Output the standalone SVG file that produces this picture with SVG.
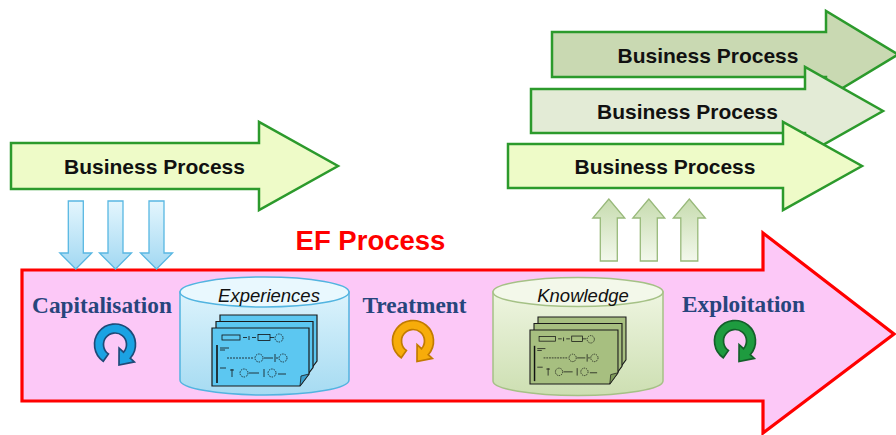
<svg xmlns="http://www.w3.org/2000/svg" xmlns:xlink="http://www.w3.org/1999/xlink" width="896" height="435" viewBox="0 0 896 435">
<style>
.bp{font-family:"Liberation Sans",Arial,sans-serif;font-weight:bold;font-size:21px;fill:#111;text-anchor:middle}
.stage{font-family:"Liberation Serif","Times New Roman",serif;font-weight:bold;font-size:23.3px;fill:#27457c;text-anchor:middle}
.db{font-family:"Liberation Sans",Arial,sans-serif;font-style:italic;font-size:18.5px;fill:#111;text-anchor:middle}
.garrow{stroke:#2c9a2c;stroke-width:2.5;stroke-linejoin:miter}
.sheet{stroke:#1a1a1a;stroke-width:1.2}
.sc{fill:none;stroke:#111;stroke-width:0.8}
</style>
<defs>
<linearGradient id="gBlue" x1="0" y1="0" x2="0" y2="1">
<stop offset="0" stop-color="#e4f6fd"/><stop offset="1" stop-color="#a2d8f2"/>
</linearGradient>
<linearGradient id="gGreenUp" x1="0" y1="0" x2="0" y2="1">
<stop offset="0" stop-color="#c6dbae"/><stop offset="1" stop-color="#f3f8ec"/>
</linearGradient>
<linearGradient id="cylB" x1="0" y1="0" x2="0" y2="1">
<stop offset="0" stop-color="#dcf3fc"/><stop offset="1" stop-color="#a6dbf2"/>
</linearGradient>
<linearGradient id="cylG" x1="0" y1="0" x2="0" y2="1">
<stop offset="0" stop-color="#eef5e0"/><stop offset="1" stop-color="#cddfb2"/>
</linearGradient>
<path id="down" d="M-7.5 0 H7.5 V52 H16 L0 68 L-16 52 H-7.5 Z"/>
<path id="up" d="M0 0 L16 19 H8.5 V62 H-8.5 V19 H-16 Z"/>
<path id="rot" d="M-11.76 16.79 A20.5 20.5 0 1 1 15.23 13.72 L19.32 17.4 L4 20.5 L4.09 3.68 L8.55 7.69 A11.5 11.5 0 1 0 -6.6 9.42 Z" stroke-width="1.7" stroke-linejoin="miter"/>
<path id="sheet" d="M0 0 H97 V46 L88 58 H0 Z"/>
<g id="scrib">
<rect class="sc" x="10" y="7" width="18" height="5"/>
<path class="sc" d="M31 9.5 h4 M37 8 v4 M40 9.5 h4"/>
<rect class="sc" x="46" y="6.5" width="12" height="6"/>
<path class="sc" d="M58 9.5 h4"/>
<circle class="sc" cx="67" cy="10" r="4" stroke-dasharray="1.5 1"/>
<path d="M5 17 V55" stroke="#111" stroke-width="1.6"/>
<path class="sc" d="M8 20 h9 M8 22 h5"/>
<path class="sc" d="M15 30 h26" stroke-dasharray="2 1"/>
<circle class="sc" cx="47" cy="30" r="4" stroke-dasharray="1.5 1"/>
<path class="sc" d="M52 30 h9 M63 26 v8 M64 30 h2"/>
<circle class="sc" cx="71" cy="30" r="4" stroke-dasharray="1.5 1"/>
<path class="sc" d="M8 40 h6 M20 41 v8 M18 42 h4"/>
<circle class="sc" cx="32" cy="45" r="4" stroke-dasharray="1.5 1"/>
<path class="sc" d="M37 45 h10 M52 41 v8"/>
<circle class="sc" cx="60" cy="45" r="4" stroke-dasharray="1.5 1"/>
<path class="sc" d="M66 46 h8"/>
</g>
</defs>

<rect width="896" height="435" fill="#ffffff"/>

<g id="ef-process">
<path d="M22 270 H763 V233 L894 334 L763 433 V401 H22 Z" fill="#fcc8f7" stroke="#ff0000" stroke-width="3.2" stroke-linejoin="miter"/>
<text x="370.5" y="250" font-family="'Liberation Sans',Arial,sans-serif" font-weight="bold" font-size="27.5" fill="#ff0000" text-anchor="middle">EF Process</text>
</g>

<g id="bp-left">
<path class="garrow" d="M11 143 H259 V122 L338 166 L259 210 V189 H11 Z" fill="#eefbc8"/>
<text class="bp" x="154.5" y="173.5">Business Process</text>
</g>

<g id="bp-top">
<path class="garrow" d="M552 32 H826 V11 L898 54.5 L826 98 V77 H552 Z" fill="#c9d9b2"/>
<text class="bp" x="708" y="62.5">Business Process</text>
</g>

<g id="bp-middle">
<path class="garrow" d="M531 89 H805 V67 L883 111 L805 155 V133 H531 Z" fill="#e3ebd6"/>
<text class="bp" x="687.5" y="118.5">Business Process</text>
</g>

<g id="bp-bottom">
<path class="garrow" d="M508 144 H783 V122 L862 166 L783 210 V188 H508 Z" fill="#eefbc8"/>
<text class="bp" x="665" y="173.5">Business Process</text>
</g>

<g id="connectors">
<use xlink:href="#down" href="#down" x="75.8" y="201" fill="url(#gBlue)" stroke="#58b7e2" stroke-width="1.3"/>
<use xlink:href="#down" href="#down" x="115.5" y="201" fill="url(#gBlue)" stroke="#58b7e2" stroke-width="1.3"/>
<use xlink:href="#down" href="#down" x="156.5" y="201" fill="url(#gBlue)" stroke="#58b7e2" stroke-width="1.3"/>
<use xlink:href="#up" href="#up" x="608.8" y="199" fill="url(#gGreenUp)" stroke="#98b97a" stroke-width="1.3"/>
<use xlink:href="#up" href="#up" x="648.8" y="199" fill="url(#gGreenUp)" stroke="#98b97a" stroke-width="1.3"/>
<use xlink:href="#up" href="#up" x="689.3" y="199" fill="url(#gGreenUp)" stroke="#98b97a" stroke-width="1.3"/>
</g>

<g id="capitalisation">
<text class="stage" x="102" y="312.5">Capitalisation</text>
<use xlink:href="#rot" href="#rot" x="115" y="344.5" fill="#1ba2e3" stroke="#1f4a78"/>
</g>

<g id="treatment">
<text class="stage" x="414.5" y="312.5">Treatment</text>
<use xlink:href="#rot" href="#rot" x="413" y="341" fill="#f7ac0a" stroke="#c27b00"/>
</g>

<g id="exploitation">
<text class="stage" x="743.5" y="312">Exploitation</text>
<use xlink:href="#rot" href="#rot" x="735" y="341" fill="#1e9b3f" stroke="#145f2a"/>
</g>

<g id="experiences">
<path d="M180 292 V380 A84.5 15 0 0 0 349 380 V292 Z" fill="url(#cylB)" stroke="#52b4e0" stroke-width="1.5"/>
<ellipse cx="264.5" cy="292" rx="84.5" ry="15" fill="#e9f8fe" stroke="#52b4e0" stroke-width="1.5"/>
<text class="db" x="269" y="302">Experiences</text>
<use xlink:href="#sheet" href="#sheet" x="220" y="315" class="sheet" fill="#5cc7f1"/>
<use xlink:href="#sheet" href="#sheet" x="216" y="321.5" class="sheet" fill="#5cc7f1"/>
<g transform="translate(212 328)">
<use xlink:href="#sheet" href="#sheet" class="sheet" fill="#5cc7f1"/>
<path d="M97 46 L88 58 L89 48 Z" fill="#3a9fcc" stroke="#1a1a1a" stroke-width="0.8"/>
<use xlink:href="#scrib" href="#scrib"/>
</g>
</g>

<g id="knowledge">
<path d="M493 292 V381 A85 14.5 0 0 0 663 381 V292 Z" fill="url(#cylG)" stroke="#a5c186" stroke-width="1.5"/>
<ellipse cx="578" cy="292" rx="85" ry="14.5" fill="#f3f8ea" stroke="#a5c186" stroke-width="1.5"/>
<text class="db" x="583" y="302">Knowledge</text>
<g transform="translate(538 317) scale(0.907 0.93)"><use xlink:href="#sheet" href="#sheet" class="sheet" fill="#a7bf80"/></g>
<g transform="translate(534 323.5) scale(0.907 0.93)"><use xlink:href="#sheet" href="#sheet" class="sheet" fill="#a7bf80"/></g>
<g transform="translate(530 330) scale(0.907 0.93)">
<use xlink:href="#sheet" href="#sheet" class="sheet" fill="#a7bf80"/>
<path d="M97 46 L88 58 L89 48 Z" fill="#7f9a5a" stroke="#1a1a1a" stroke-width="0.8"/>
<use xlink:href="#scrib" href="#scrib"/>
</g>
</g>
</svg>
